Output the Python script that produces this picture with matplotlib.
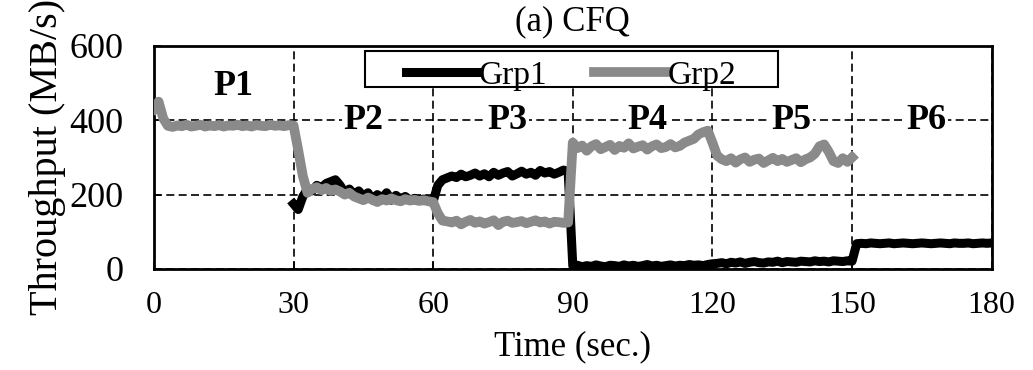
import numpy as np
import matplotlib
matplotlib.use("Agg")
import matplotlib.pyplot as plt
from matplotlib.patches import Rectangle

plt.rcParams['font.family'] = ['Liberation Serif', 'DejaVu Serif']

# Grp2 throughput, one sample per second, t = 0..150
grp2_time = np.arange(0, 151)
grp2_vals = [
    # P1 (0-30)
    430, 450, 405, 385, 382, 386, 384, 388, 383, 385, 388, 383, 386, 384, 387,
    383, 386, 385, 388, 384, 386, 383, 387, 385, 384, 388, 385, 386, 384, 387, 386,
    # P2 (31-60)
    320, 250, 205, 215, 220, 212, 218, 210, 214, 208, 200, 205, 195, 190, 185,
    192, 186, 180, 188, 184, 190, 185, 182, 188, 184, 186, 183, 185, 182, 180,
    # P3 (61-89)
    150, 130, 128, 125, 130, 120, 127, 132, 124, 128, 122, 126, 131, 118, 127,
    130, 124, 126, 129, 123, 127, 131, 125, 128, 122, 127, 126, 124, 125,
    # P4 (90-120)
    340, 325, 332, 318, 330, 336, 322, 328, 334, 320, 331, 326, 338, 324, 329,
    333, 321, 330, 335, 325, 328, 336, 327, 331, 340, 345, 350, 362, 368, 372, 340,
    # P5 (121-150)
    305, 295, 290, 298, 286, 295, 300, 288, 294, 297, 285, 292, 299, 290, 296,
    288, 293, 298, 287, 295, 300, 310, 330, 335, 315, 290, 285, 298, 288, 300,
]

# Grp1 throughput, one sample per second, t = 30..180
grp1_time = np.arange(30, 181)
grp1_vals = [
    # P2 (30-60)
    175, 160, 195, 215, 210, 225, 218, 230, 235, 240, 225, 205, 215, 200, 210,
    195, 205, 185, 200, 190, 205, 185, 198, 188, 195, 185, 190, 186, 188, 185, 182,
    # P3 (61-89)
    225, 240, 245, 250, 246, 255, 248, 252, 258, 250, 256, 248, 260, 252, 258,
    262, 250, 256, 263, 255, 260, 252, 265, 258, 262, 255, 260, 266, 262,
    # P4 (90-120)
    8, 10, 6, 9, 7, 11, 8, 6, 10, 9, 7, 11, 8, 10, 7,
    9, 12, 8, 10, 7, 9, 11, 8, 10, 9, 12, 10, 11, 9, 12, 14,
    # P5 (121-150)
    15, 17, 14, 18, 16, 19, 15, 18, 20, 17, 16, 19, 18, 21, 17,
    20, 19, 18, 21, 20, 19, 22, 20, 21, 19, 22, 21, 20, 22, 21,
    # P6 (151-180)
    68, 69, 68, 70, 69, 68, 69, 70, 68, 69, 70, 69, 68, 69, 70,
    69, 68, 69, 70, 69, 68, 70, 69, 69, 70, 68, 69, 70, 69, 70,
]

phase_names = ['P1', 'P2', 'P3', 'P4', 'P5', 'P6']
phase_x = [17, 45, 76, 106, 137, 166]
phase_y = [490, 400, 400, 400, 400, 400]

fig, ax = plt.subplots(figsize=(10.33, 3.70), dpi=100)
fig.subplots_adjust(left=0.149, right=0.960, bottom=0.273, top=0.876)

ax.plot(grp1_time, grp1_vals, color='black', lw=6.5, label='Grp1', zorder=3)
ax.plot(grp2_time, grp2_vals, color='#8a8a8a', lw=7, label='Grp2', zorder=4)

for name, px, py in zip(phase_names, phase_x, phase_y):
    ax.text(px, py, name, ha='center', va='center', fontsize=26, fontweight='bold',
            bbox=dict(facecolor='white', edgecolor='none', pad=1), zorder=2)

ax.set_xlim(0, 180)
ax.set_ylim(0, 600)
ax.set_xticks([0, 30, 60, 90, 120, 150, 180])
ax.set_yticks([0, 200, 400, 600])
ax.grid(True, color='black', linestyle=(0, (4.8, 2.6)), linewidth=1.2, zorder=1)
ax.tick_params(axis='both', direction='in', length=5, width=1.2)
ax.tick_params(axis='x', pad=16, labelsize=23)
ax.tick_params(axis='y', pad=22, labelsize=26)
for s in ax.spines.values():
    s.set_linewidth(2)

ax.set_xlabel('Time (sec.)', fontsize=25, labelpad=7)
ax.set_ylabel('Throughput (MB/s)', fontsize=29, labelpad=2)
ax.set_title('(a) CFQ', fontsize=25, pad=11)

# legend box (wider than the entries, text hangs below it)
ax.add_patch(Rectangle((0.252, 0.815), 0.493, 0.162, transform=ax.transAxes,
                       facecolor='white', edgecolor='black', lw=1.5, zorder=5))
leg = ax.legend(loc='upper center', bbox_to_anchor=(0.498, 0.935), ncol=2,
                fontsize=24, frameon=False, handlelength=2.15,
                handletextpad=0.05, columnspacing=1.4, borderpad=0.0,
                borderaxespad=0)
leg.set_zorder(6)

plt.savefig('out.png', dpi=100)
